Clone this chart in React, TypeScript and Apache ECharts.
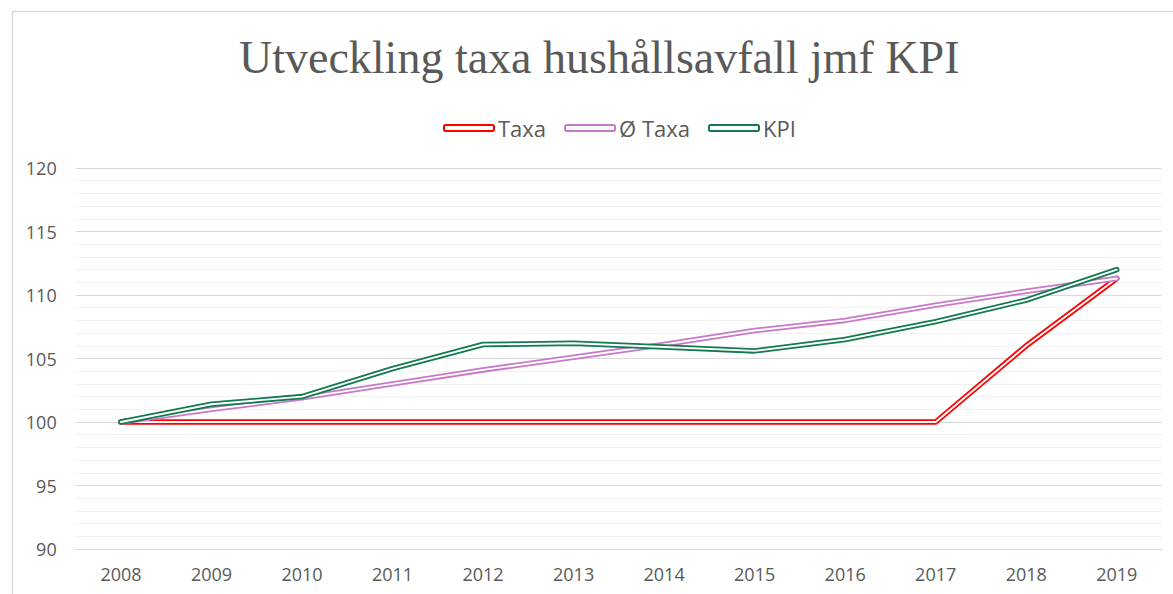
import React, { useEffect, useRef } from "react";
import * as echarts from "echarts";

const years = ["2008", "2009", "2010", "2011", "2012", "2013", "2014", "2015", "2016", "2017", "2018", "2019"];
const taxa = [100, 100, 100, 100, 100, 100, 100, 100, 100, 100, 106.0, 111.3];
const snittTaxa = [100, 101.0, 101.9, 103.0, 104.1, 105.1, 106.1, 107.2, 108.0, 109.2, 110.3, 111.3];
const kpi = [100, 101.4, 102.0, 104.2, 106.1, 106.2, 105.9, 105.6, 106.5, 107.9, 109.6, 112.0];

const seriesNames = ["Taxa", "Ø Taxa", "KPI"];
const seriesColors = ["#ff0000", "#c879c8", "#127a4f"];
const seriesData = [taxa, snittTaxa, kpi];

export default function App() {
  const ref = useRef<HTMLDivElement>(null);
  useEffect(() => {
    document.body.style.margin = "0";
    const chart = echarts.init(ref.current!, null, { renderer: "svg" });
    const series: any[] = [];
    seriesNames.forEach((name, i) => {
      series.push({
        name,
        type: "line",
        data: seriesData[i],
        showSymbol: false,
        symbol: "none",
        lineStyle: { color: seriesColors[i], width: 5.5, cap: "round", join: "round" },
        itemStyle: { color: seriesColors[i] },
        z: 2 + i * 2,
      });
      series.push({
        name: name + " inner",
        type: "line",
        data: seriesData[i],
        showSymbol: false,
        symbol: "none",
        lineStyle: { color: "#ffffff", width: 1.9, cap: "round", join: "round" },
        z: 3 + i * 2,
        silent: true,
      });
    });
    chart.setOption({
      animation: false,
      backgroundColor: "#ffffff",
      title: {
        text: "Utveckling taxa hushållsavfall jmf KPI",
        left: 234,
        top: 29,
        textStyle: {
          fontFamily: "Liberation Serif",
          fontSize: 46,
          fontWeight: "normal",
          color: "#595959",
        },
      },
      legend: {
        top: 110,
        left: 438,
        itemWidth: 50,
        itemHeight: 6,
        itemGap: 18,
        textStyle: { fontFamily: "Open Sans", fontSize: 22, lineHeight: 26, color: "#595959", padding: [0, 0, 0, -1] },
        data: seriesNames.map((n, i) => ({
          name: n,
          icon: "roundRect",
          itemStyle: { color: "#ffffff", borderColor: seriesColors[i], borderWidth: 2 },
        })),
      },
      grid: { left: 75.7, right: 11, top: 168, bottom: 45 },
      xAxis: {
        type: "category",
        data: years,
        boundaryGap: true,
        axisLine: { show: true, lineStyle: { color: "#d9d9d9" } },
        axisTick: { show: false },
        axisLabel: { fontFamily: "Open Sans", fontSize: 18, color: "#595959", margin: 16 },
      },
      yAxis: {
        type: "value",
        min: 90,
        max: 120,
        interval: 5,
        axisLine: { show: false },
        axisTick: { show: false },
        axisLabel: { fontFamily: "Open Sans", fontSize: 18, color: "#595959", margin: 19 },
        splitLine: { lineStyle: { color: "#d9d9d9", width: 1 } },
        minorTick: { show: false, splitNumber: 5 },
        minorSplitLine: { show: true, lineStyle: { color: "#f2f2f2", width: 1 } },
      },
      graphic: [
        {
          type: "rect",
          shape: { x: 12.5, y: 11.5, width: 1300, height: 700 },
          style: { fill: "none", stroke: "#d9d9d9", lineWidth: 1.5 },
          silent: true,
          z: -1,
        },
      ],
      series,
    });
    return () => chart.dispose();
  }, []);
  return <div ref={ref} style={{ width: 1173, height: 594 }} />;
}
